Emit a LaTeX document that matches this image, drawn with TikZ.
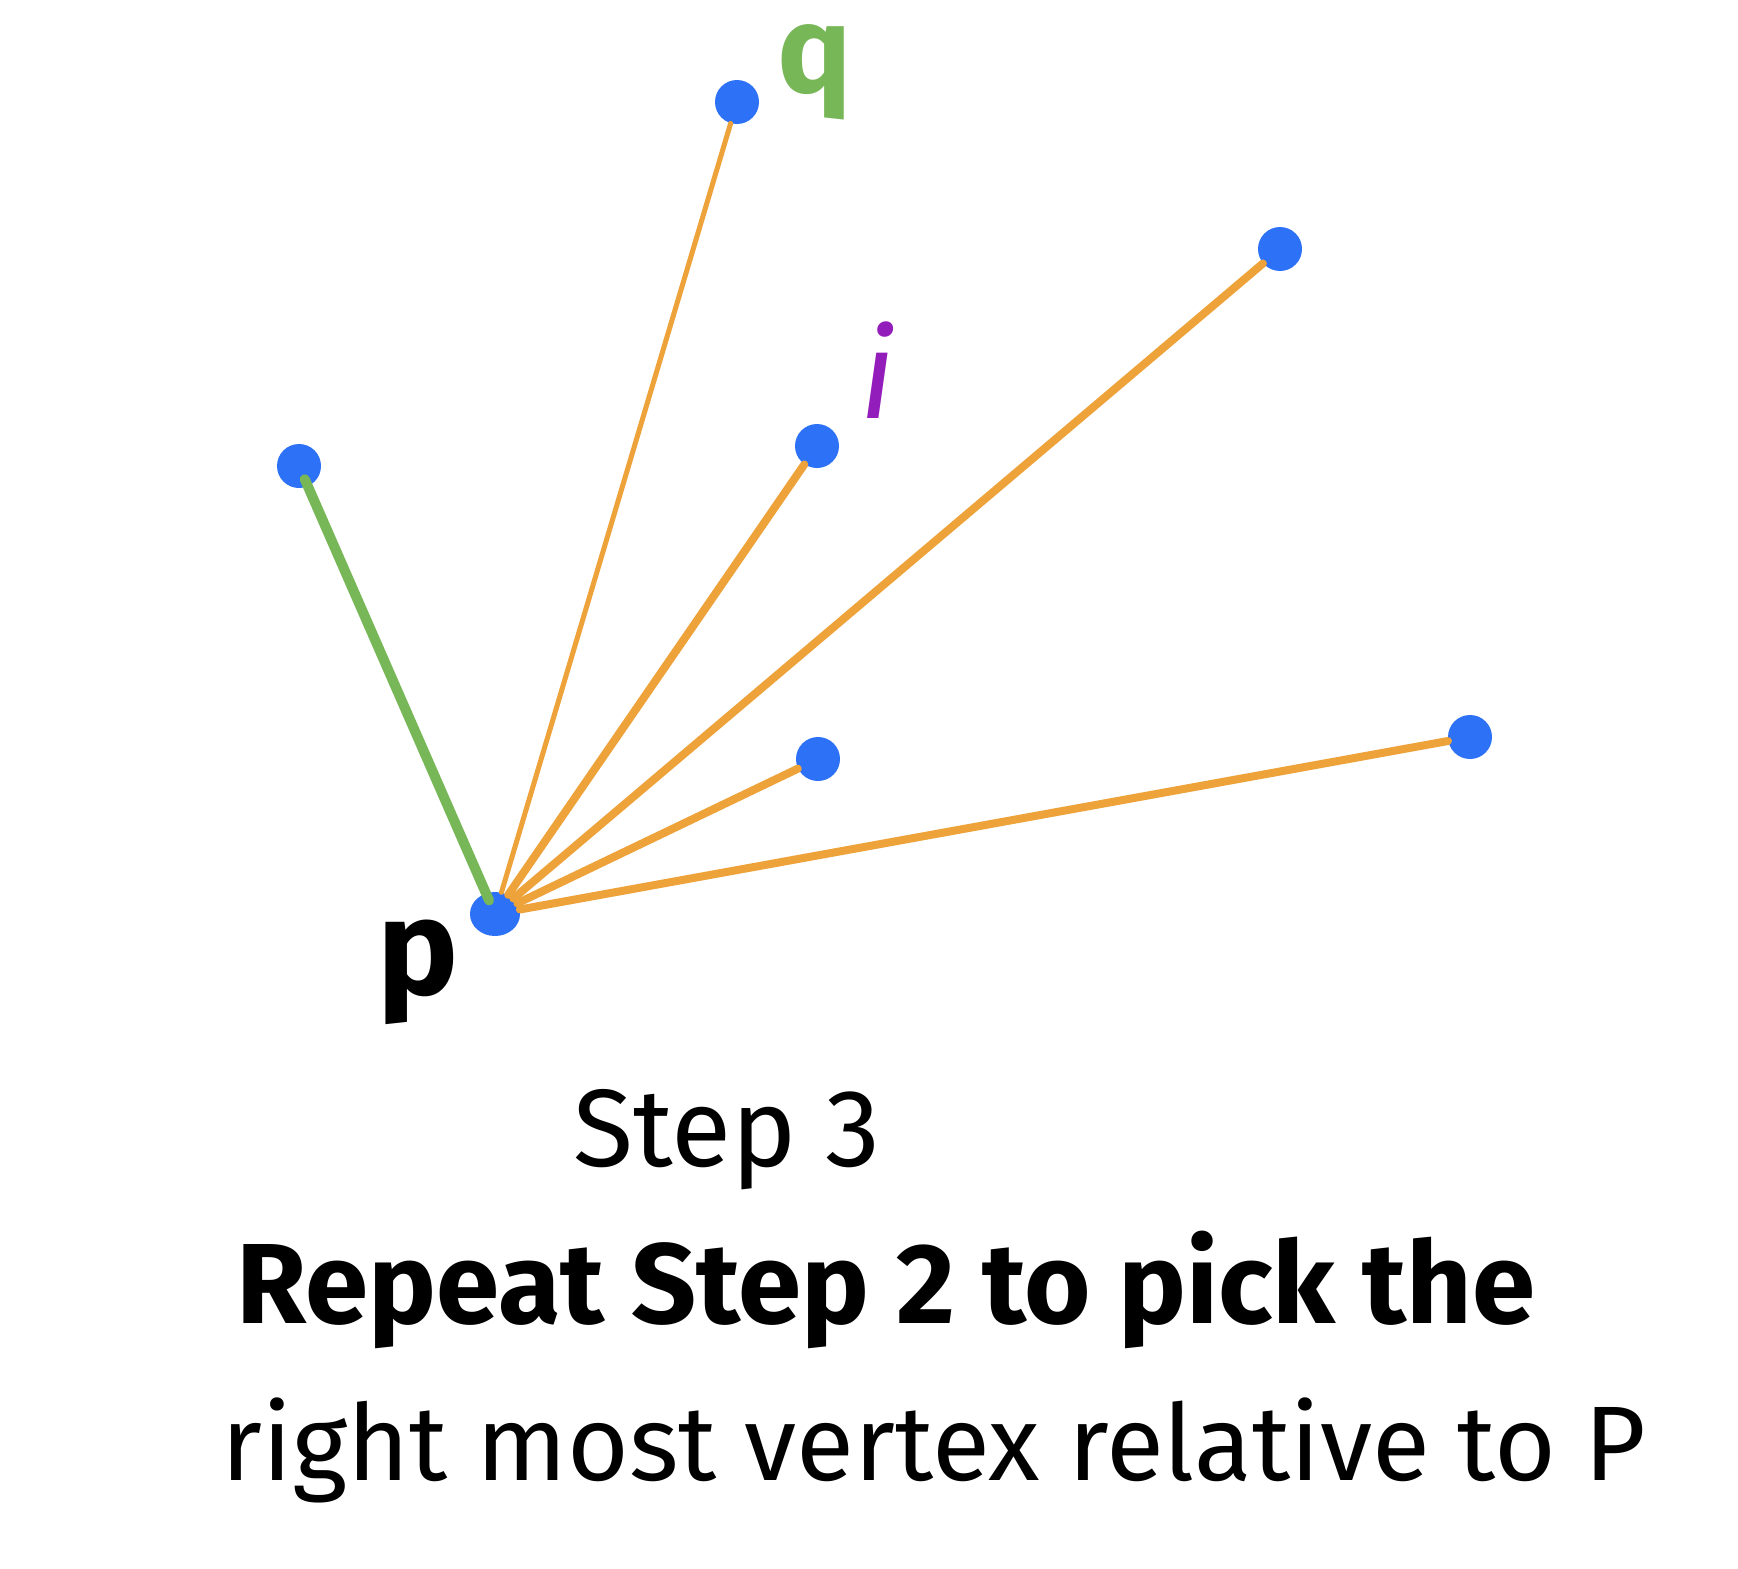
\documentclass[tikz,border=0pt]{standalone}
\usepackage{fontspec}
\usetikzlibrary{shapes.geometric}
\setmainfont{Fira Sans}
\definecolor{dotblue}{HTML}{2C71F6}
\definecolor{edgeor}{HTML}{EDA23A}
\definecolor{edgegr}{HTML}{77B757}
\definecolor{lblpurple}{HTML}{921DBA}
\begin{document}
\begin{tikzpicture}[x=0.5pt,y=-0.5pt,
  vtx/.style={circle,fill=dotblue,inner sep=0pt,minimum size=22pt},
  hull/.style={draw=edgegr,line width=5pt,line cap=round},
  cand/.style={draw=edgeor,line width=4pt,line cap=round},
  thin/.style={draw=edgeor,line width=2.5pt,line cap=round}]
\useasboundingbox[fill=white] (0,0) rectangle (1738,1568);
\node[vtx,ellipse,minimum width=25pt,minimum height=22pt] (p) at (495,914) {};
\node[vtx] (q) at (737,102) {};
\node[vtx] (tr) at (1280,249) {};
\node[vtx] (i) at (817,446) {};
\node[vtx] (l) at (299,466) {};
\node[vtx] (lm) at (818,759) {};
\node[vtx] (r) at (1470,737) {};
\draw[hull,shorten >=-4pt,shorten <=-4pt] (l) -- (p);
\draw[thin] (p) -- (q);
\draw[cand] (p) -- (i);
\draw[cand] (p) -- (tr);
\draw[cand] (p) -- (lm);
\draw[cand] (p) -- (r);
\node[text=edgegr,font=\fontsize{62}{70}\selectfont\bfseries] (ql) at (815,72) {q};
\node[text=lblpurple,font=\fontsize{62}{70}\selectfont\itshape] (il) at (878,370) {i};
\node[font=\fontsize{68}{80}\selectfont\bfseries] (pl) at (418,972) {p};
\node[font=\fontsize{55}{60}\selectfont] (s3) at (727,1140) {Step 3};
\node[font=\fontsize{57}{70}\selectfont\bfseries] (t1) at (886,1290) {Repeat Step 2 to pick the};
\node[font=\fontsize{53}{70}\selectfont] (t2) at (934,1450) {right most vertex relative to P};
\end{tikzpicture}
\end{document}
